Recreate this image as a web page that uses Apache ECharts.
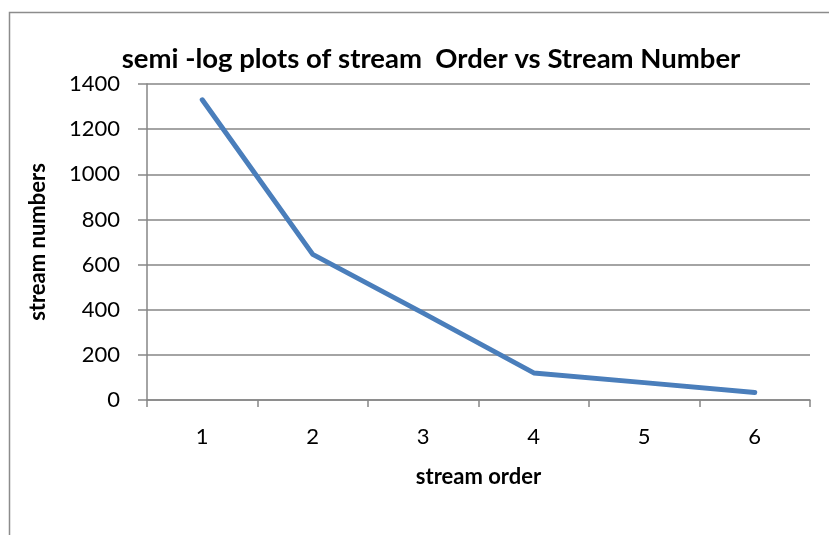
<!DOCTYPE html>
<html><head><meta charset="utf-8">
<script src="https://cdn.jsdelivr.net/npm/echarts@6/dist/echarts.min.js"></script>
<style>html,body{margin:0;padding:0;background:#fff;}#c{width:829px;height:535px;}</style>
</head><body><div id="c"></div>
<script>
const categories = ['1','2','3','4','5','6'];
const streamNumbers = [1330, 645, 385, 120, 77, 33];
const yTicks = { min: 0, max: 1400, interval: 200 };

const chart = echarts.init(document.getElementById('c'));
const fontFam = 'Lato, "Open Sans", sans-serif';
chart.setOption({
  animation: false,
  backgroundColor: '#fff',
  graphic: [{ type: 'rect', shape: { x: 9.5, y: 12.5, width: 840, height: 540 }, style: { fill: 'none', stroke: '#8c8c8c', lineWidth: 1.5 } }],
  title: { text: 'semi -log plots of stream  Order vs Stream Number', left: 426, textAlign: 'center', top: 40,
    textStyle: { fontFamily: fontFam, fontSize: 27.5, fontWeight: 'bold', color: '#000' } },
  grid: { left: 147, right: 19, top: 84, bottom: 135, containLabel: false },
  xAxis: {
    type: 'category', data: categories, boundaryGap: true,
    name: 'stream order', nameLocation: 'middle', nameGap: 66,
    nameTextStyle: { fontFamily: fontFam, fontSize: 22, fontWeight: 'bold', color: '#000' },
    axisLine: { lineStyle: { color: '#868686', width: 1.5 } },
    axisTick: { show: true, alignWithLabel: false, length: 7, lineStyle: { color: '#868686', width: 1.5 } },
    axisLabel: { fontFamily: fontFam, fontSize: 22, color: '#000', margin: 26 }
  },
  yAxis: {
    type: 'value', min: yTicks.min, max: yTicks.max, interval: yTicks.interval,
    name: 'stream numbers', nameLocation: 'middle', nameGap: 98, nameRotate: 90,
    nameTextStyle: { fontFamily: fontFam, fontSize: 22, fontWeight: 'bold', color: '#000' },
    axisLine: { show: true, lineStyle: { color: '#868686', width: 1.5 } },
    axisTick: { show: true, length: 9, lineStyle: { color: '#868686', width: 1.5 } },
    axisLabel: { fontFamily: fontFam, fontSize: 22, color: '#000', margin: 27, formatter: v => String(v) },
    splitLine: { lineStyle: { color: '#868686', width: 1.5 } }
  },
  series: [{
    type: 'line', data: streamNumbers, symbol: 'none',
    lineStyle: { color: '#4a7ebb', width: 5, cap: 'round', join: 'round' }
  }]
});
</script></body></html>
